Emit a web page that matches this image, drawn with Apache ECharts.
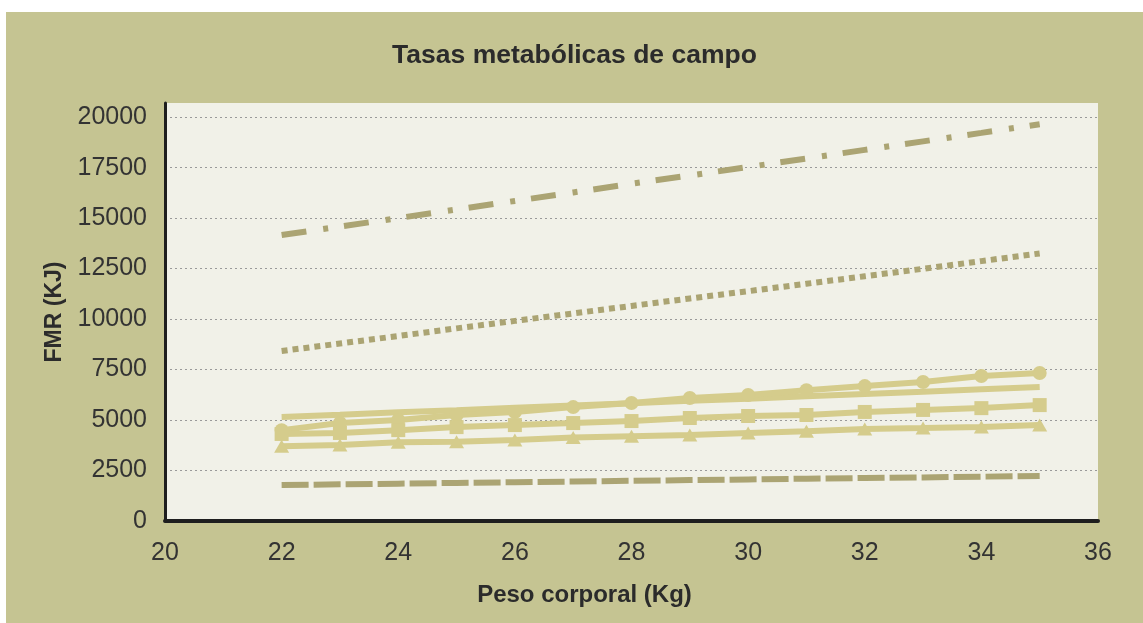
<!DOCTYPE html>
<html>
<head>
<meta charset="utf-8">
<script src="https://cdn.jsdelivr.net/npm/echarts@6/dist/echarts.min.js"></script>
<style>
  html, body { margin: 0; padding: 0; background: #fff; }
  #chart { position: absolute; left: 6px; top: 12px; width: 1137px; height: 611px; }
</style>
</head>
<body>
<div id="chart"></div>
<script>
// peso corporal (kg)
const pesos = [22, 23, 24, 25, 26, 27, 28, 29, 30, 31, 32, 33, 34, 35];

// FMR (KJ) por serie
const rayaPunto = [14160, 14580, 15000, 15430, 15850, 16270, 16700, 17110, 17530, 17950, 18380, 18800, 19220, 19650];
const punteada = [8420, 8790, 9160, 9540, 9910, 10280, 10650, 11020, 11380, 11750, 12120, 12490, 12870, 13250];
const circulos = [4500, 4850, 5000, 5250, 5400, 5640, 5840, 6090, 6240, 6480, 6680, 6880, 7180, 7330];
const lineaSola = [5150, 5260, 5380, 5490, 5610, 5720, 5830, 5950, 6060, 6180, 6290, 6400, 6520, 6630];
const cuadrados = [4310, 4360, 4500, 4650, 4750, 4850, 4950, 5100, 5200, 5250, 5400, 5500, 5590, 5740];
const triangulos = [3700, 3760, 3900, 3930, 4010, 4130, 4200, 4260, 4360, 4450, 4550, 4600, 4660, 4760];
const rayas = [1780, 1815, 1850, 1885, 1920, 1955, 1990, 2025, 2060, 2095, 2130, 2160, 2195, 2230];

const claro = '#d5cc8c';
const oscuro = '#aba473';

function pares(vals) {
  return pesos.map((p, i) => [p, vals[i]]);
}

function serie(vals, color, symbol, size, dash) {
  return {
    type: 'line',
    data: pares(vals),
    symbol: symbol,
    symbolSize: size,
    showAllSymbol: true,
    silent: true,
    lineStyle: { color: color, width: 6, type: dash || 'solid', cap: 'butt' },
    itemStyle: { color: color }
  };
}

const myChart = echarts.init(document.getElementById('chart'));
const option = {
  backgroundColor: '#c5c492',
  animation: false,
  title: {
    text: 'Tasas metabólicas de campo',
    left: 'center',
    top: 25,
    textStyle: { fontFamily: 'Liberation Sans', fontSize: 26.5, fontWeight: 'bold', color: '#2b2b2b' }
  },
  grid: {
    left: 159,
    right: 45,
    top: 91,
    bottom: 102,
    show: true,
    backgroundColor: '#f1f1e8',
    borderWidth: 0
  },
  xAxis: {
    type: 'value',
    min: 20,
    max: 36,
    interval: 2,
    name: 'Peso corporal (Kg)',
    nameLocation: 'middle',
    nameGap: 62,
    nameTextStyle: {
      fontFamily: 'Liberation Sans', fontSize: 24, fontWeight: 'bold', color: '#2b2b2b',
      padding: [0, 94, 0, 0]
    },
    axisLine: { show: true, onZero: false, lineStyle: { color: '#1e1e1e', width: 4 } },
    axisTick: { show: false },
    splitLine: { show: false },
    axisLabel: { fontFamily: 'Liberation Sans', fontSize: 25, color: '#333', margin: 20 }
  },
  yAxis: {
    type: 'value',
    min: 0,
    max: 20700,
    interval: 2500,
    name: 'FMR (KJ)',
    nameLocation: 'middle',
    nameGap: 96,
    nameTextStyle: { fontFamily: 'Liberation Sans', fontSize: 23, fontWeight: 'bold', color: '#2b2b2b' },
    axisLine: { show: true, lineStyle: { color: '#1e1e1e', width: 3 } },
    axisTick: { show: false },
    axisLabel: {
      fontFamily: 'Liberation Sans', fontSize: 25, color: '#333', margin: 18, showMaxLabel: false,
      formatter: function (v) { return String(v); }
    },
    splitLine: {
      show: true,
      showMinLine: false,
      showMaxLine: false,
      lineStyle: { color: '#9a9a9a', width: 1, type: [2, 3] }
    }
  },
  series: [
    serie(lineaSola, claro, 'none', 0),
    serie(circulos, claro, 'circle', 14),
    serie(cuadrados, claro, 'rect', 14),
    serie(triangulos, claro, 'triangle', [15, 13]),
    serie(rayaPunto, oscuro, 'none', 0, [25, 17, 5, 16]),
    serie(punteada, oscuro, 'none', 0, [6, 5]),
    serie(rayas, oscuro, 'none', 0, [27, 5])
  ]
};
myChart.setOption(option);
</script>
</body>
</html>
